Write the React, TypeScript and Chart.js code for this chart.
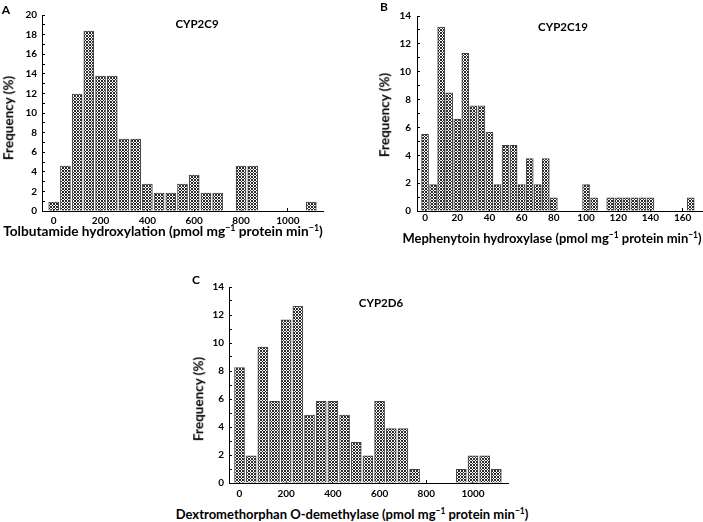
import React, { useEffect, useRef } from 'react';
import { Chart, registerables } from 'chart.js';

Chart.register(...registerables);

// ---------- data ----------
const cyp2c9Bins = [0, 50, 100, 150, 200, 250, 300, 350, 400, 450, 500, 550, 600, 650, 700, 750, 800, 850, 900, 950, 1000, 1050, 1100];
const cyp2c9Freq = [0.92, 4.59, 11.93, 18.35, 13.76, 13.76, 7.34, 7.34, 2.75, 1.83, 1.83, 2.75, 3.67, 1.83, 1.83, 0, 4.59, 4.59, 0, 0, 0, 0, 0.92];
const cyp2c9XTicks = [0, 200, 400, 600, 800, 1000];
const cyp2c9YTicks = [0, 2, 4, 6, 8, 10, 12, 14, 16, 18, 20];

const cyp2c19Bins = [0, 5, 10, 15, 20, 25, 30, 35, 40, 45, 50, 55, 60, 65, 70, 75, 80, 85, 90, 95, 100, 105, 110, 115, 120, 125, 130, 135, 140, 145, 150, 155, 160, 165];
const cyp2c19Freq = [5.5, 1.89, 13.2, 8.49, 6.6, 11.32, 7.55, 7.55, 5.66, 1.89, 4.72, 4.72, 1.89, 3.77, 1.89, 3.77, 0.94, 0, 0, 0, 1.89, 0.94, 0, 0.94, 0.94, 0.94, 0.94, 0.94, 0.94, 0, 0, 0, 0, 0.94];
const cyp2c19XTicks = [0, 20, 40, 60, 80, 100, 120, 140, 160];
const cyp2c19YTicks = [0, 2, 4, 6, 8, 10, 12, 14];

const cyp2d6Bins = [0, 50, 100, 150, 200, 250, 300, 350, 400, 450, 500, 550, 600, 650, 700, 750, 800, 850, 900, 950, 1000, 1050, 1100];
const cyp2d6Freq = [8.25, 1.94, 9.71, 5.83, 11.65, 12.62, 4.85, 5.83, 5.83, 4.85, 2.91, 1.94, 5.83, 3.88, 3.88, 0.97, 0, 0, 0, 0.97, 1.94, 1.94, 0.97];
const cyp2d6XTicks = [0, 200, 400, 600, 800, 1000];
const cyp2d6YTicks = [0, 2, 4, 6, 8, 10, 12, 14];

// ---------- helpers ----------
function makePattern(ctx: CanvasRenderingContext2D) {
  const c = document.createElement('canvas');
  c.width = 3;
  c.height = 3;
  const g = c.getContext('2d')!;
  g.fillStyle = '#ffffff';
  g.fillRect(0, 0, 3, 3);
  g.fillStyle = '#2a2a2a';
  [[0, 0], [1, 1], [2, 2], [0, 2], [2, 0]].forEach(([x, y]) => g.fillRect(x, y, 1, 1));
  return ctx.createPattern(c, 'repeat')!;
}

type PanelProps = {
  left: number; top: number; width: number; height: number;
  pad: { left: number; right: number; top: number; bottom: number };
  yAxisWidth: number; xAxisHeight: number;
  bins: number[]; freq: number[];
  xMin: number; xMax: number; xTicks: number[];
  yMax: number; yTicks: number[];
  barThickness: number; xTickPad: number; yTickPad: number;
};

function Panel(p: PanelProps) {
  const ref = useRef<HTMLCanvasElement>(null);
  useEffect(() => {
    const canvas = ref.current!;
    const ctx = canvas.getContext('2d')!;
    const pattern = makePattern(ctx);
    const tickFont = { family: 'Lato, sans-serif', weight: 'bold' as const, size: 10 };
    const yAll: number[] = [];
    p.yTicks.forEach((v, i) => {
      yAll.push(v);
      if (i < p.yTicks.length - 1) yAll.push((v + p.yTicks[i + 1]) / 2);
    });
    const chart = new Chart(canvas, {
      type: 'bar',
      data: {
        datasets: [{
          data: p.bins.map((b, i) => ({ x: b, y: p.freq[i] })).filter(d => d.y > 0) as any,
          backgroundColor: pattern as any,
          borderColor: '#444444',
          borderWidth: 1,
          barThickness: p.barThickness,
        }],
      },
      options: {
        responsive: false,
        animation: false,
        devicePixelRatio: 1,
        layout: { padding: p.pad },
        plugins: { legend: { display: false }, tooltip: { enabled: false }, title: { display: false } },
        scales: {
          x: {
            type: 'linear',
            min: p.xMin,
            max: p.xMax,
            offset: false,
            afterBuildTicks: (s: any) => { s.ticks = p.xTicks.map(v => ({ value: v })); },
            afterFit: (s: any) => { s.height = p.xAxisHeight; },
            grid: { display: true, drawOnChartArea: false, drawTicks: true, tickLength: -3, color: '#000', offset: false },
            border: { display: true, color: '#000', width: 1 },
            ticks: { font: tickFont, color: '#000', padding: p.xTickPad, maxRotation: 0, autoSkip: false, callback: (v: any) => String(v) },
          },
          y: {
            type: 'linear',
            min: 0,
            max: p.yMax,
            afterBuildTicks: (s: any) => { s.ticks = yAll.map(v => ({ value: v })); },
            afterFit: (s: any) => { s.width = p.yAxisWidth; },
            grid: { display: true, drawOnChartArea: false, drawTicks: true, tickLength: -3, color: '#000' },
            border: { display: true, color: '#000', width: 1 },
            ticks: {
              font: tickFont, color: '#000', padding: p.yTickPad, autoSkip: false,
              callback: (v: any) => (p.yTicks.includes(Number(v)) ? String(v) : ''),
            },
          },
        },
      },
    });
    return () => chart.destroy();
  }, []);
  return (
    <canvas
      ref={ref}
      width={p.width}
      height={p.height}
      style={{ position: 'absolute', left: p.left, top: p.top, width: p.width, height: p.height }}
    />
  );
}

const Txt = ({ x, y, size, rot, children }: { x: number; y: number; size: number; rot?: boolean; children: any }) => (
  <div
    style={{
      position: 'absolute', left: x, top: y,
      transform: `translate(-50%, -50%)${rot ? ' rotate(-90deg)' : ''}`,
      whiteSpace: 'nowrap', fontFamily: 'Lato, sans-serif', fontWeight: 700,
      fontSize: size, lineHeight: 1, color: '#000',
    }}
  >
    {children}
  </div>
);

const Sup = ({ children }: { children: any }) => (
  <span style={{ fontSize: '0.65em', verticalAlign: '0.55em', lineHeight: 0 }}>{children}</span>
);

export default function App() {
  return (
    <div style={{ position: 'absolute', left: 0, top: 0, width: 703, height: 522, background: '#fff', overflow: 'hidden' }}>
      <Panel
        left={0} top={0} width={335} height={230}
        pad={{ left: 0, right: 12, top: 15, bottom: 0 }}
        yAxisWidth={42} xAxisHeight={19}
        bins={cyp2c9Bins} freq={cyp2c9Freq}
        xMin={-50} xMax={1150} xTicks={cyp2c9XTicks}
        yMax={20} yTicks={cyp2c9YTicks}
        barThickness={10} xTickPad={7} yTickPad={8}
      />
      <Panel
        left={360} top={0} width={343} height={230}
        pad={{ left: 0, right: 1, top: 16, bottom: 0 }}
        yAxisWidth={57} xAxisHeight={19}
        bins={cyp2c19Bins} freq={cyp2c19Freq}
        xMin={-5} xMax={172} xTicks={cyp2c19XTicks}
        yMax={14} yTicks={cyp2c19YTicks}
        barThickness={7} xTickPad={4} yTickPad={9}
      />
      <Panel
        left={180} top={270} width={340} height={230}
        pad={{ left: 0, right: 12, top: 17, bottom: 0 }}
        yAxisWidth={49} xAxisHeight={17}
        bins={cyp2d6Bins} freq={cyp2d6Freq}
        xMin={-45} xMax={1150} xTicks={cyp2d6XTicks}
        yMax={14} yTicks={cyp2d6YTicks}
        barThickness={10} xTickPad={8} yTickPad={8}
      />

      <Txt x={6} y={10} size={12}>A</Txt>
      <Txt x={384} y={7} size={12}>B</Txt>
      <Txt x={196} y={280} size={12}>C</Txt>

      <Txt x={197} y={24} size={11.5}>CYP2C9</Txt>
      <Txt x={563} y={27} size={11.5}>CYP2C19</Txt>
      <Txt x={381} y={303} size={11.5}>CYP2D6</Txt>

      <Txt x={9} y={118} size={13.5} rot>Frequency (%)</Txt>
      <Txt x={385} y={115} size={13.5} rot>Frequency (%)</Txt>
      <Txt x={199} y={399} size={13.5} rot>Frequency (%)</Txt>

      <Txt x={163} y={231} size={13.7}>Tolbutamide hydroxylation (pmol mg<Sup>−1</Sup> protein min<Sup>−1</Sup>)</Txt>
      <Txt x={552} y={238} size={13}>Mephenytoin hydroxylase (pmol mg<Sup>−1</Sup> protein min<Sup>−1</Sup>)</Txt>
      <Txt x={352} y={514} size={13}>Dextromethorphan O-demethylase (pmol mg<Sup>−1</Sup> protein min<Sup>−1</Sup>)</Txt>
    </div>
  );
}
